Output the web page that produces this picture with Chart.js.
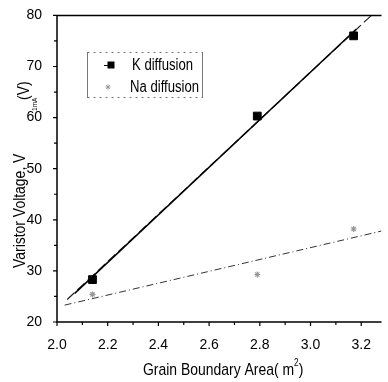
<!DOCTYPE html>
<html>
<head>
<meta charset="utf-8">
<script src="https://cdn.jsdelivr.net/npm/chart.js@4"></script>
<style>
  body { margin: 0; background: #fff; }
  #wrap { width: 388px; height: 382px; }
</style>
</head>
<body>
<div id="wrap"><canvas id="voltage-chart"></canvas></div>
<script>
// measured points: grain boundary area vs. V1mA
const area = [2.14, 2.79, 3.17];
const kVoltage = [28.3, 60.3, 76.0];
const naVoltage = [25.4, 29.3, 38.2];

// fitted lines (end points)
const kFitArea = [2.07, 3.18];
const kFitVoltage = [25.6, 77.3];
const kFit2Area = [2.04, 3.24];
const kFit2Voltage = [24.4, 80.0];
const naFitArea = [2.03, 3.28];
const naFitVoltage = [23.3, 37.8];

const xTicks = [2.0, 2.2, 2.4, 2.6, 2.8, 3.0, 3.2];
const yTicks = [20, 30, 40, 50, 60, 70, 80];

const FONT = "'Liberation Sans', Arial, sans-serif";
const SQUEEZE = 0.82; // narrow look for titles and legend

function pairs(xs, ys) {
  return xs.map((x, i) => ({ x: x, y: ys[i] }));
}

// draws squeezed text, returns the width used
function narrow(ctx, text, x, y, size) {
  ctx.font = size + 'px ' + FONT;
  ctx.save();
  ctx.translate(x, y);
  ctx.scale(SQUEEZE, 1);
  ctx.fillText(text, 0, 0);
  ctx.restore();
  return ctx.measureText(text).width * SQUEEZE;
}

function starAt(ctx, x, y, r) {
  ctx.beginPath();
  for (let i = 0; i < 4; i++) {
    const a = i * Math.PI / 4;
    ctx.moveTo(x - r * Math.cos(a), y - r * Math.sin(a));
    ctx.lineTo(x + r * Math.cos(a), y + r * Math.sin(a));
  }
  ctx.stroke();
}

// frame, outward ticks, axis titles and the boxed legend
const decorations = {
  id: 'decorations',
  afterDraw(chart) {
    const ctx = chart.ctx;
    const a = chart.chartArea;
    const sx = chart.scales.x, sy = chart.scales.y;
    ctx.save();

    ctx.strokeStyle = '#000';
    ctx.lineWidth = 1.5;
    ctx.beginPath();
    ctx.moveTo(a.left, a.top);
    ctx.lineTo(a.right, a.top);
    ctx.moveTo(a.left, a.top);
    ctx.lineTo(a.left, a.bottom);
    ctx.lineTo(a.right, a.bottom);
    ctx.stroke();

    ctx.lineWidth = 1.2;
    ctx.beginPath();
    for (let v = 20; v <= 80; v += 5) {
      const p = sy.getPixelForValue(v);
      const len = v % 10 === 0 ? 4 : 3;
      ctx.moveTo(a.left, p);
      ctx.lineTo(a.left - len, p);
    }
    for (let i = 0; i <= 12; i++) {
      const p = sx.getPixelForValue(2.0 + i * 0.1);
      const len = i % 2 === 0 ? 4 : 3;
      ctx.moveTo(p, a.bottom);
      ctx.lineTo(p, a.bottom + len);
    }
    ctx.stroke();

    ctx.fillStyle = '#000';
    ctx.textBaseline = 'alphabetic';
    ctx.textAlign = 'left';

    // x title with superscript
    let x = 143;
    x += narrow(ctx, 'Grain Boundary Area( m', x, 375, 17);
    x += narrow(ctx, '2', x, 366, 10);
    narrow(ctx, ')', x, 375, 17);

    // y title, rotated, with subscript
    ctx.save();
    ctx.translate(25, 268);
    ctx.rotate(-Math.PI / 2);
    narrow(ctx, 'Varistor Voltage, V', 0, 0, 17);
    narrow(ctx, '1mA', 157, 12, 8);
    narrow(ctx, '(V)', 168, 4, 17);
    ctx.restore();

    // legend box
    ctx.strokeStyle = '#777';
    ctx.lineWidth = 1;
    ctx.beginPath();
    ctx.moveTo(87.5, 52); ctx.lineTo(87.5, 98);
    ctx.moveTo(202.5, 52); ctx.lineTo(202.5, 98);
    ctx.stroke();
    ctx.setLineDash([2, 4]);
    ctx.beginPath();
    ctx.moveTo(87.5, 52.5); ctx.lineTo(202.5, 52.5);
    ctx.moveTo(87.5, 97.5); ctx.lineTo(202.5, 97.5);
    ctx.stroke();
    ctx.setLineDash([]);

    ctx.strokeStyle = '#000';
    ctx.beginPath();
    ctx.moveTo(104, 65.5); ctx.lineTo(108, 65.5);
    ctx.stroke();
    ctx.fillStyle = '#000';
    ctx.fillRect(107.5, 61.5, 7, 7);
    ctx.strokeStyle = '#999';
    starAt(ctx, 108, 87, 2.5);

    narrow(ctx, 'K diffusion', 132, 70, 16);
    narrow(ctx, 'Na diffusion', 130, 92, 16);

    ctx.restore();
  }
};

new Chart(document.getElementById('voltage-chart'), {
  type: 'scatter',
  data: {
    datasets: [
      {
        label: 'K fit',
        data: pairs(kFitArea, kFitVoltage),
        showLine: true,
        borderColor: '#000',
        borderWidth: 1.5,
        pointRadius: 0
      },
      {
        label: 'K fit 2',
        data: pairs(kFit2Area, kFit2Voltage),
        showLine: true,
        borderColor: '#222',
        borderWidth: 1.2,
        borderDash: [10, 4],
        pointRadius: 0
      },
      {
        label: 'Na fit',
        data: pairs(naFitArea, naFitVoltage),
        showLine: true,
        borderColor: '#333',
        borderWidth: 1,
        borderDash: [7, 3, 1, 3],
        pointRadius: 0
      },
      {
        label: 'K diffusion',
        data: pairs(area, kVoltage),
        pointStyle: 'rect',
        pointRadius: 5.5,
        backgroundColor: '#000',
        borderColor: '#000'
      },
      {
        label: 'Na diffusion',
        data: pairs(area, naVoltage),
        pointStyle: 'star',
        pointRadius: 3,
        borderWidth: 1.2,
        backgroundColor: '#999',
        borderColor: '#999'
      }
    ]
  },
  options: {
    responsive: true,
    maintainAspectRatio: false,
    animation: false,
    layout: { padding: { top: 13, right: 0, left: 0, bottom: 0 } },
    plugins: {
      legend: { display: false },
      tooltip: { enabled: false }
    },
    scales: {
      x: {
        type: 'linear',
        min: 2.0,
        max: 3.28,
        grid: { display: false },
        border: { display: false },
        afterBuildTicks: s => { s.ticks = xTicks.map(v => ({ value: v })); },
        afterFit: s => { s.height = 60; },
        ticks: {
          padding: 7,
          color: '#000',
          font: { family: FONT, size: 14 },
          callback: v => v.toFixed(1)
        }
      },
      y: {
        min: 20,
        max: 80,
        grid: { display: false },
        border: { display: false },
        afterBuildTicks: s => { s.ticks = yTicks.map(v => ({ value: v })); },
        afterFit: s => { s.width = 57; },
        ticks: {
          padding: 7,
          color: '#000',
          font: { family: FONT, size: 14 }
        }
      }
    }
  },
  plugins: [decorations]
});
</script>
</body>
</html>
